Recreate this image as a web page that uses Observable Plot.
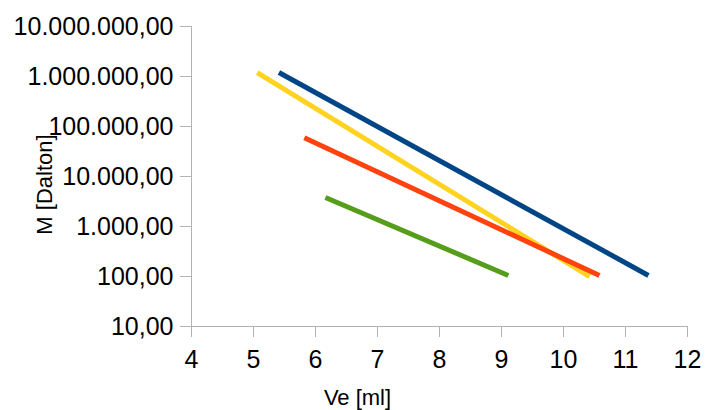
<!DOCTYPE html>
<html>
<head>
<meta charset="utf-8">
<script src="https://cdn.jsdelivr.net/npm/d3@7"></script>
<script src="https://cdn.jsdelivr.net/npm/@observablehq/plot@0.6"></script>
<style>
  body { margin: 0; background: #fff; }
  svg { font-family: "Liberation Sans", Arial, sans-serif; }
  [aria-label="y-axis tick"], [aria-label="x-axis tick"] { stroke: #b3b3b3; }
</style>
</head>
<body>
<div id="chart"></div>
<script>
// Data
const seriesNames = ["Blau", "Gelb", "Rot", "Grün"];
const seriesColors = ["#004586", "#ffd320", "#ff420e", "#579d1c"];
const blueVe = [5.41, 11.37];
const blueM = [1200000, 105];
const yellowVe = [5.06, 10.42];
const yellowM = [1200000, 100];
const redVe = [5.82, 10.58];
const redM = [59400, 105];
const greenVe = [6.16, 9.11];
const greenM = [3800, 105];
const xTicks = [4, 5, 6, 7, 8, 9, 10, 11, 12];
const yTicks = [10, 100, 1000, 10000, 100000, 1000000, 10000000];

const allVe = [blueVe, yellowVe, redVe, greenVe];
const allM = [blueM, yellowM, redM, greenM];
const rows = [];
seriesNames.forEach((s, i) => {
  allVe[i].forEach((v, j) => rows.push({series: s, ve: v, m: allM[i][j]}));
});

const de = d3.formatLocale({decimal: ",", thousands: ".", grouping: [3], currency: ["", ""]});
const fmt = de.format(",.2f");

const chart = Plot.plot({
  width: 706,
  height: 410,
  marginLeft: 191,
  marginRight: 19,
  marginTop: 26,
  marginBottom: 84,
  style: {fontSize: "25px", fontFamily: "Liberation Sans, Arial, sans-serif", color: "#000"},
  x: {domain: [4, 12]},
  y: {type: "log", domain: [10, 10000000]},
  color: {domain: seriesNames, range: seriesColors},
  marks: [
    Plot.frame({anchor: "left", stroke: "#b3b3b3"}),
    Plot.frame({anchor: "bottom", stroke: "#b3b3b3"}),
    Plot.axisY({ticks: yTicks, tickSize: 11, tickPadding: 7, tickFormat: fmt, label: null}),
    Plot.axisX({ticks: xTicks, tickSize: 11, tickPadding: 13, tickFormat: d => String(d), label: null}),
    Plot.line(rows, {x: "ve", y: "m", z: "series", stroke: "series", strokeWidth: 5, strokeLinecap: "butt"}),
    Plot.text(["M [Dalton]"], {frameAnchor: "left", textAnchor: "middle", lineAnchor: "middle", rotate: -90, dx: -147, dy: 8, fontSize: 22, fill: "#000"}),
    Plot.text(["Ve [ml]"], {frameAnchor: "bottom", textAnchor: "middle", lineAnchor: "middle", dx: -82, dy: 71, fontSize: 22, fill: "#000"})
  ]
});
document.getElementById("chart").appendChild(chart);
</script>
</body>
</html>
